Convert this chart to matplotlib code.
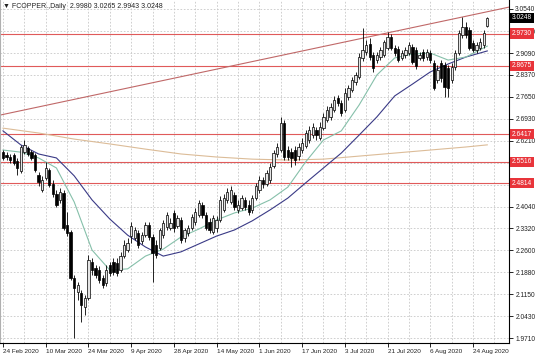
import numpy as np
import matplotlib.pyplot as plt
from matplotlib.transforms import blended_transform_factory

plt.rcParams['font.family'] = ['Liberation Sans', 'DejaVu Sans']

# daily bars, FCOPPER
open_ = [2.583, 2.574, 2.567, 2.574, 2.554, 2.521, 2.583, 2.597, 2.583, 2.574,
         2.508, 2.459, 2.498, 2.524, 2.478, 2.445, 2.426, 2.449, 2.343, 2.320,
         2.169, 2.123, 2.120, 2.074, 2.103, 2.222, 2.202, 2.195, 2.169, 2.153,
         2.212, 2.222, 2.218, 2.195, 2.241, 2.261, 2.307, 2.301, 2.317, 2.291,
         2.310, 2.343, 2.304, 2.278, 2.268, 2.310, 2.337, 2.333, 2.383, 2.340,
         2.360, 2.301, 2.317, 2.333, 2.353, 2.376, 2.409, 2.376, 2.353, 2.320,
         2.333, 2.360, 2.393, 2.426, 2.419, 2.442, 2.393, 2.399, 2.426, 2.409,
         2.393, 2.432, 2.459, 2.491, 2.478, 2.491, 2.537, 2.577, 2.590, 2.679,
         2.590, 2.583, 2.590, 2.570, 2.590, 2.603, 2.623, 2.639, 2.656, 2.630,
         2.662, 2.689, 2.699, 2.722, 2.761, 2.745, 2.722, 2.764, 2.787, 2.814,
         2.830, 2.893, 2.913, 2.939, 2.903, 2.886, 2.896, 2.903, 2.926, 2.962,
         2.926, 2.922, 2.893, 2.903, 2.909, 2.929, 2.919, 2.893, 2.913, 2.896,
         2.909, 2.876, 2.820, 2.876, 2.870, 2.860, 2.820, 2.863, 2.909, 2.968,
         2.995, 2.985, 2.942, 2.919, 2.926, 2.936, 2.9980]
close = [2.564, 2.567, 2.557, 2.547, 2.531, 2.600, 2.607, 2.577, 2.564, 2.524,
         2.485, 2.491, 2.531, 2.475, 2.445, 2.409, 2.452, 2.333, 2.317, 2.169,
         2.136, 2.146, 2.080, 2.103, 2.228, 2.195, 2.179, 2.163, 2.146, 2.195,
         2.185, 2.189, 2.185, 2.241, 2.278, 2.284, 2.340, 2.327, 2.278, 2.310,
         2.343, 2.304, 2.251, 2.245, 2.327, 2.350, 2.376, 2.350, 2.333, 2.366,
         2.294, 2.327, 2.333, 2.370, 2.386, 2.416, 2.376, 2.333, 2.327, 2.366,
         2.360, 2.426, 2.432, 2.452, 2.459, 2.403, 2.409, 2.432, 2.403, 2.386,
         2.432, 2.472, 2.491, 2.478, 2.514, 2.534, 2.580, 2.600, 2.679, 2.567,
         2.567, 2.564, 2.557, 2.600, 2.613, 2.646, 2.656, 2.666, 2.639, 2.666,
         2.699, 2.722, 2.732, 2.755, 2.745, 2.712, 2.778, 2.794, 2.820, 2.837,
         2.896, 2.919, 2.936, 2.896, 2.860, 2.903, 2.919, 2.945, 2.962, 2.926,
         2.909, 2.886, 2.909, 2.919, 2.936, 2.880, 2.866, 2.903, 2.893, 2.913,
         2.886, 2.794, 2.853, 2.827, 2.797, 2.794, 2.863, 2.909, 2.975, 2.995,
         2.968, 2.926, 2.919, 2.936, 2.945, 2.975, 3.0248]
high = [2.590, 2.583, 2.577, 2.580, 2.564, 2.607, 2.623, 2.603, 2.590, 2.580,
        2.518, 2.505, 2.551, 2.531, 2.491, 2.459, 2.465, 2.459, 2.386, 2.327,
        2.179, 2.156, 2.130, 2.113, 2.245, 2.235, 2.212, 2.208, 2.179, 2.212,
        2.222, 2.235, 2.235, 2.255, 2.294, 2.301, 2.353, 2.337, 2.327, 2.320,
        2.353, 2.353, 2.314, 2.294, 2.333, 2.360, 2.386, 2.366, 2.393, 2.376,
        2.370, 2.333, 2.343, 2.380, 2.399, 2.426, 2.419, 2.386, 2.366, 2.376,
        2.373, 2.439, 2.445, 2.465, 2.472, 2.452, 2.426, 2.442, 2.436, 2.426,
        2.442, 2.482, 2.505, 2.501, 2.524, 2.547, 2.590, 2.613, 2.699, 2.689,
        2.603, 2.597, 2.603, 2.613, 2.630, 2.656, 2.669, 2.679, 2.666, 2.682,
        2.712, 2.735, 2.745, 2.768, 2.771, 2.755, 2.794, 2.804, 2.830, 2.847,
        2.909, 2.991, 2.952, 2.959, 2.913, 2.913, 2.929, 2.952, 2.978, 2.972,
        2.936, 2.932, 2.919, 2.929, 2.945, 2.939, 2.929, 2.913, 2.922, 2.922,
        2.919, 2.886, 2.870, 2.886, 2.880, 2.870, 2.876, 2.919, 2.985, 3.028,
        3.011, 2.995, 2.952, 2.945, 2.959, 2.985, 3.0265]
low = [2.557, 2.557, 2.547, 2.541, 2.508, 2.514, 2.577, 2.570, 2.557, 2.518,
       2.472, 2.452, 2.491, 2.468, 2.436, 2.403, 2.416, 2.327, 2.307, 2.163,
       1.972, 2.097, 2.024, 2.047, 2.097, 2.179, 2.169, 2.153, 2.136, 2.143,
       2.176, 2.179, 2.176, 2.189, 2.235, 2.255, 2.284, 2.294, 2.268, 2.281,
       2.304, 2.294, 2.156, 2.235, 2.261, 2.301, 2.327, 2.327, 2.320, 2.333,
       2.284, 2.287, 2.307, 2.327, 2.343, 2.370, 2.366, 2.327, 2.317, 2.314,
       2.320, 2.353, 2.386, 2.416, 2.412, 2.393, 2.383, 2.393, 2.393, 2.376,
       2.383, 2.426, 2.449, 2.465, 2.472, 2.482, 2.531, 2.567, 2.583, 2.557,
       2.557, 2.534, 2.541, 2.557, 2.580, 2.597, 2.613, 2.630, 2.623, 2.623,
       2.656, 2.682, 2.689, 2.715, 2.735, 2.702, 2.715, 2.755, 2.781, 2.804,
       2.824, 2.883, 2.903, 2.886, 2.847, 2.876, 2.886, 2.896, 2.919, 2.919,
       2.899, 2.880, 2.886, 2.893, 2.903, 2.873, 2.857, 2.886, 2.883, 2.886,
       2.876, 2.787, 2.811, 2.814, 2.764, 2.764, 2.811, 2.853, 2.903, 2.959,
       2.959, 2.919, 2.913, 2.909, 2.919, 2.926, 2.9943]

# moving averages (bar index -> value)
ma_idx = [0, 5, 10, 15, 20, 25, 30, 35, 40, 45, 50, 55, 60, 65, 70, 75, 80,
          85, 90, 95, 100, 105, 110, 115, 120, 125, 130, 136]
ma_fast = [2.590, 2.583, 2.564, 2.531, 2.419, 2.261, 2.195, 2.199, 2.241, 2.264,
           2.304, 2.330, 2.360, 2.383, 2.399, 2.426, 2.468, 2.551, 2.623, 2.653,
           2.738, 2.837, 2.893, 2.906, 2.909, 2.886, 2.896, 2.932]
ma_slow = [2.653, 2.607, 2.577, 2.564, 2.505, 2.426, 2.363, 2.310, 2.271, 2.241,
           2.255, 2.281, 2.307, 2.327, 2.357, 2.393, 2.432, 2.482, 2.531, 2.580,
           2.639, 2.699, 2.768, 2.807, 2.847, 2.873, 2.896, 2.916]
ma200_idx = [0, 10, 20, 30, 40, 50, 60, 70, 80, 90, 100, 110, 120, 130, 136]
ma200 = [2.662, 2.646, 2.626, 2.610, 2.593, 2.577, 2.567, 2.560, 2.557, 2.560,
         2.570, 2.580, 2.590, 2.600, 2.607]

levels = [2.9730, 2.8675, 2.6417, 2.5516, 2.4814]
trend_a = (0, 2.707)
trend_b = (136, 3.045)

grid_prices = [3.0540, 2.9810, 2.9090, 2.8370, 2.7650, 2.6930, 2.6210, 2.5480,
               2.4760, 2.4040, 2.3320, 2.2600, 2.1880, 2.1150, 2.0430, 1.9710]
# labels hidden under the level boxes are left out
price_labels = [3.0540, 2.9810, 2.9090, 2.8370, 2.7650, 2.6930, 2.6210,
                2.4040, 2.3320, 2.2600, 2.1880, 2.1150, 2.0430, 1.9710]
date_idx = [0, 12, 24, 36, 48, 60, 72, 84, 96, 108, 120, 132]
date_labels = ["24 Feb 2020", "10 Mar 2020", "24 Mar 2020", "9 Apr 2020",
               "28 Apr 2020", "14 May 2020", "1 Jun 2020", "17 Jun 2020",
               "3 Jul 2020", "21 Jul 2020", "6 Aug 2020", "24 Aug 2020"]

W, H = 536, 357
fig = plt.figure(figsize=(W / 100, H / 100), dpi=100)
ax = fig.add_axes([0, 14 / H, 509 / W, 1 - 14 / H])

o = np.array(open_); c = np.array(close)
hi = np.array(high); lo = np.array(low)
x = np.arange(len(o))
up = c >= o

# grid
for gx in range(0, 142, 6):
    ax.axvline(gx, color='#c8c8c8', lw=0.6, ls=(0, (2, 2)), zorder=0)
for gy in grid_prices:
    ax.axhline(gy, color='#c8c8c8', lw=0.6, ls=(0, (2, 2)), zorder=0)

# horizontal levels and trend line
for lv in levels:
    ax.axhline(lv, color='#e05a5a', lw=0.8, zorder=1)
ax.axline(trend_a, trend_b, color='#c06868', lw=0.8, zorder=1)

# moving averages
ax.plot(ma200_idx, ma200, color='#dcbc98', lw=0.8, zorder=2)
ax.plot(ma_idx, ma_slow, color='#3a3a86', lw=0.8, zorder=2)
ax.plot(ma_idx, ma_fast, color='#86c0aa', lw=0.8, zorder=2)

# candles
ax.vlines(x, lo, hi, color='black', lw=0.6, zorder=3)
body = np.abs(c - o)
body = np.where(body < 0.002, 0.002, body)
ax.bar(x[up], body[up], bottom=o[up], width=0.65, color='#e4e4e4',
       edgecolor='black', linewidth=0.5, zorder=4)
ax.bar(x[~up], body[~up], bottom=c[~up], width=0.65, color='black',
       edgecolor='black', linewidth=0.5, zorder=4)

ax.set_xlim(-0.84, 142.1)
ax.set_ylim(1.9551, 3.0836)

ax.yaxis.tick_right()
ax.set_yticks(price_labels)
ax.set_yticklabels([f"{v:.4f}" for v in price_labels], fontsize=4.8, color='#222222')
ax.set_xticks(date_idx)
ax.set_xticklabels(date_labels, fontsize=4.6, ha='left', color='#222222')
ax.tick_params(axis='x', length=3, pad=1.5, width=0.6)
ax.tick_params(axis='y', length=3, pad=1.5, width=0.6)

ax.spines['top'].set_visible(False)
ax.spines['left'].set_color('#b0b0b0')
ax.spines['right'].set_linewidth(0.8)
ax.spines['bottom'].set_linewidth(0.8)

# price boxes on the right axis
tr = blended_transform_factory(ax.transAxes, ax.transData)
for lv in levels:
    ax.text(1.006, lv, f"{lv:.4f}", transform=tr, fontsize=4.8, color='white',
            ha='left', va='center', zorder=10, clip_on=False,
            bbox=dict(boxstyle='square,pad=0.25', fc='#e8343a', ec='none'))
ax.text(1.006, close[-1], f"{close[-1]:.4f}", transform=tr, fontsize=4.8,
        color='white', ha='left', va='center', zorder=10, clip_on=False,
        bbox=dict(boxstyle='square,pad=0.25', fc='black', ec='none'))

fig.text(3 / W, 1 - 7 / H,
         f"\u25BC FCOPPER.,Daily  {open_[-1]:.4f} {high[-1]:.4f} {low[-1]:.4f} {close[-1]:.4f}",
         fontsize=5, ha='left', va='center', color='#222222')

fig.savefig("out.png", dpi=100)
